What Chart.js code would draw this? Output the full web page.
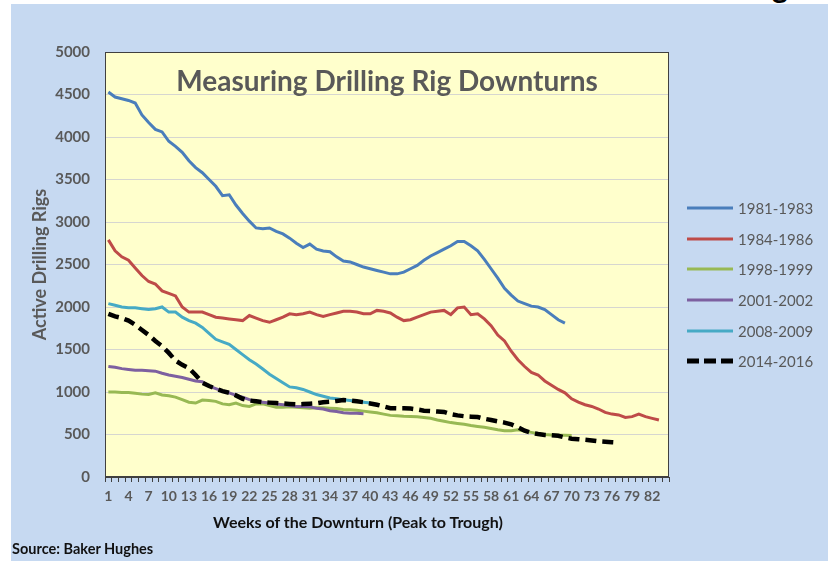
<!DOCTYPE html>
<html>
<head>
<meta charset="utf-8">
<script src="https://cdn.jsdelivr.net/npm/chart.js@4/dist/chart.umd.min.js"></script>
<style>
  html, body { margin: 0; padding: 0; background: #ffffff; }
  body { width: 828px; height: 561px; position: relative; overflow: hidden; font-family: Lato, "Open Sans", sans-serif; }
  #topclip { position: absolute; left: 760px; top: 0; width: 68px; height: 4px; overflow: hidden; }
  #topclip span { position: absolute; left: 12px; top: -29px; font: bold 30px Lato, sans-serif; color: #000; line-height: 30px; }
  #wrap { position: absolute; left: 11px; top: 4px; width: 817px; height: 557px; background: #c6d9f1; }
  #chart { position: absolute; left: 0; top: 0; }
  #title { position: absolute; left: 94px; width: 564px; top: 62px; text-align: center;
           font: bold 28px Lato, sans-serif; color: #595959; line-height: 28px; white-space: nowrap; }
  #xtitle { position: absolute; left: 0; width: 694px; top: 509px; text-align: center;
            font: bold 16px Lato, sans-serif; color: #111; line-height: 18px; white-space: nowrap; }
  #source { position: absolute; left: 1px; top: 536px; font: bold 14.5px Lato, sans-serif; color: #111; line-height: 17px; white-space: nowrap; }
  #legend { position: absolute; left: 676px; top: 189px; }
  .lg-row { display: flex; align-items: center; height: 30.6px; }
  .lg-row svg { display: block; margin-right: 5px; }
  .lg-row span { font: 15px Lato, sans-serif; color: #595959; line-height: 18px; white-space: nowrap; }
</style>
</head>
<body>
<div id="topclip"><span>g</span></div>
<div id="wrap">
  <canvas id="chart" width="817" height="557"></canvas>
  <div id="title">Measuring Drilling Rig Downturns</div>
  <div id="xtitle">Weeks of the Downturn (Peak to Trough)</div>
  <div id="source">Source: Baker Hughes</div>
  <div id="legend"></div>
</div>
<script>
// Weeks since each cycle's peak rig count
const weeks = [1,2,3,4,5,6,7,8,9,10,11,12,13,14,15,16,17,18,19,20,
  21,22,23,24,25,26,27,28,29,30,31,32,33,34,35,36,37,38,39,40,
  41,42,43,44,45,46,47,48,49,50,51,52,53,54,55,56,57,58,59,60,
  61,62,63,64,65,66,67,68,69,70,71,72,73,74,75,76,77,78,79,80,
  81,82,83,84];
// Week numbers printed under the axis
const labelledWeeks = [1,4,7,10,13,16,19,22,25,28,31,34,37,40,43,46,49,52,55,58,61,64,67,70,73,76,79,82];
// Value axis ticks
const rigTicks = [0,500,1000,1500,2000,2500,3000,3500,4000,4500,5000];

// Active drilling rigs, week by week, for each downturn
const rigs1981 = [4530,4470,4450,4430,4400,4260,4170,4090,4060,3950,
  3890,3820,3720,3640,3580,3500,3420,3310,3320,3200,
  3100,3010,2930,2920,2930,2890,2860,2810,2750,2700,
  2740,2680,2660,2650,2590,2540,2530,2500,2470,2450,
  2430,2410,2390,2390,2410,2450,2490,2550,2600,2640,
  2680,2720,2770,2770,2720,2660,2560,2450,2340,2220,
  2140,2070,2040,2010,2000,1970,1910,1850,1810];
const rigs1984 = [2790,2660,2590,2550,2460,2370,2300,2270,2190,2160,
  2130,2000,1940,1940,1940,1910,1880,1870,1860,1850,
  1840,1900,1870,1840,1820,1850,1880,1920,1910,1920,
  1940,1910,1890,1910,1930,1950,1950,1940,1920,1920,
  1960,1950,1930,1880,1840,1850,1880,1910,1940,1950,
  1960,1910,1990,2000,1910,1920,1860,1780,1670,1600,
  1480,1380,1300,1230,1200,1130,1080,1030,990,920,
  880,850,830,800,760,740,730,700,710,740,
  710,690,670];
const rigs1998 = [1000,1000,995,995,985,975,970,990,965,955,
  940,910,880,870,905,900,890,860,850,870,
  840,830,860,860,840,820,820,825,820,815,
  810,815,815,810,805,795,790,785,775,765,
  755,740,725,720,715,712,708,700,690,670,
  655,640,630,620,605,595,585,570,555,545,
  545,555,540,525,510,500,495,490,490,488];
const rigs2001 = [1300,1290,1275,1265,1255,1255,1250,1245,1220,1200,
  1185,1170,1150,1130,1120,1070,1040,1010,990,960,
  940,910,890,880,870,860,850,840,830,830,
  825,810,800,780,770,755,750,750,745];
const rigs2008 = [2040,2020,2000,1990,1990,1980,1970,1980,2000,1940,
  1940,1880,1840,1810,1760,1690,1620,1590,1560,1500,
  1440,1380,1330,1270,1210,1160,1110,1060,1050,1030,
  1000,970,950,930,920,910,900,890,880,870];
const rigs2014 = [1920,1890,1870,1840,1790,1730,1670,1600,1540,1460,
  1370,1320,1280,1200,1110,1070,1040,1010,990,960,
  920,900,890,880,875,870,865,860,855,858,
  862,867,880,886,895,905,900,890,880,865,
  850,830,810,808,808,805,795,780,775,770,
  765,740,725,715,710,705,685,670,655,640,
  620,585,545,520,505,495,490,485,465,450,
  445,438,430,420,415,410,405];

// Fills the plot area and outlines it
const plotFrame = {
  id: 'plotFrame',
  beforeDraw(chart) {
    const { ctx, chartArea: a } = chart;
    ctx.save();
    ctx.fillStyle = '#ffffcc';
    ctx.fillRect(a.left, a.top, a.right - a.left, a.bottom - a.top);
    ctx.restore();
  },
  beforeDatasetsDraw(chart) {
    const { ctx, chartArea: a } = chart;
    ctx.save();
    ctx.strokeStyle = '#404040';
    ctx.lineWidth = 1;
    ctx.strokeRect(Math.round(a.left) + 0.5, Math.round(a.top) + 0.5,
      Math.round(a.right - a.left) - 1, Math.round(a.bottom - a.top) - 1);
    ctx.restore();
  }
};

const line = (label, data, color, order, extra) => Object.assign({
  label, data, borderColor: color, backgroundColor: color,
  borderWidth: 3, pointRadius: 0, tension: 0, fill: false, order
}, extra || {});

const chart = new Chart(document.getElementById('chart'), {
  type: 'line',
  data: {
    labels: weeks,
    datasets: [
      line('1981-1983', rigs1981, '#4a7ebb', 5),
      line('1984-1986', rigs1984, '#be4b48', 4),
      line('1998-1999', rigs1998, '#98b954', 3),
      line('2001-2002', rigs2001, '#7d60a0', 2),
      line('2008-2009', rigs2008, '#46aac5', 1),
      line('2014-2016', rigs2014, '#000000', 0, { borderWidth: 4.5, borderDash: [11, 6] })
    ]
  },
  options: {
    responsive: false,
    animation: false,
    layout: { padding: { left: 0, top: 48, right: 159, bottom: 54 } },
    plugins: {
      legend: { display: false },
      tooltip: { enabled: false },
      title: { display: false }
    },
    scales: {
      x: {
        type: 'category',
        offset: true,
        grid: { display: true, offset: true, drawOnChartArea: false, drawTicks: true, tickLength: 5, color: '#404040' },
        border: { display: true, color: '#404040' },
        ticks: {
          autoSkip: false, maxRotation: 0, minRotation: 0, padding: 6,
          color: '#595959', font: { family: 'Lato', weight: 'bold', size: 14 },
          callback(value, index) {
            const w = weeks[index];
            return labelledWeeks.includes(w) ? String(w) : '';
          }
        },
        afterFit(scale) { scale.height = 30; }
      },
      y: {
        min: rigTicks[0],
        max: rigTicks[rigTicks.length - 1],
        grid: { color: '#d6d6d0', drawTicks: false },
        border: { display: false },
        ticks: {
          stepSize: rigTicks[1] - rigTicks[0], padding: 15,
          color: '#595959', font: { family: 'Lato', weight: 'bold', size: 15 },
          callback: (v) => String(v)
        },
        title: {
          display: true, text: 'Active Drilling Rigs', color: '#595959',
          font: { family: 'Lato', weight: 'bold', size: 18 },
          padding: { top: 18, bottom: 0 }
        },
        afterFit(scale) { scale.width = 94; }
      }
    }
  },
  plugins: [plotFrame]
});

// Legend built from the datasets' own colours and dash patterns
const legendBox = document.getElementById('legend');
chart.data.datasets.forEach((ds) => {
  const row = document.createElement('div');
  row.className = 'lg-row';
  const svgNS = 'http://www.w3.org/2000/svg';
  const svg = document.createElementNS(svgNS, 'svg');
  svg.setAttribute('width', '46');
  svg.setAttribute('height', '8');
  const ln = document.createElementNS(svgNS, 'line');
  ln.setAttribute('x1', '0'); ln.setAttribute('y1', '4');
  ln.setAttribute('x2', '46'); ln.setAttribute('y2', '4');
  ln.setAttribute('stroke', ds.borderColor);
  ln.setAttribute('stroke-width', ds.borderDash ? 5 : 3);
  if (ds.borderDash) ln.setAttribute('stroke-dasharray', '12 5');
  svg.appendChild(ln);
  const txt = document.createElement('span');
  txt.textContent = ds.label;
  row.appendChild(svg);
  row.appendChild(txt);
  legendBox.appendChild(row);
});
</script>
</body>
</html>
